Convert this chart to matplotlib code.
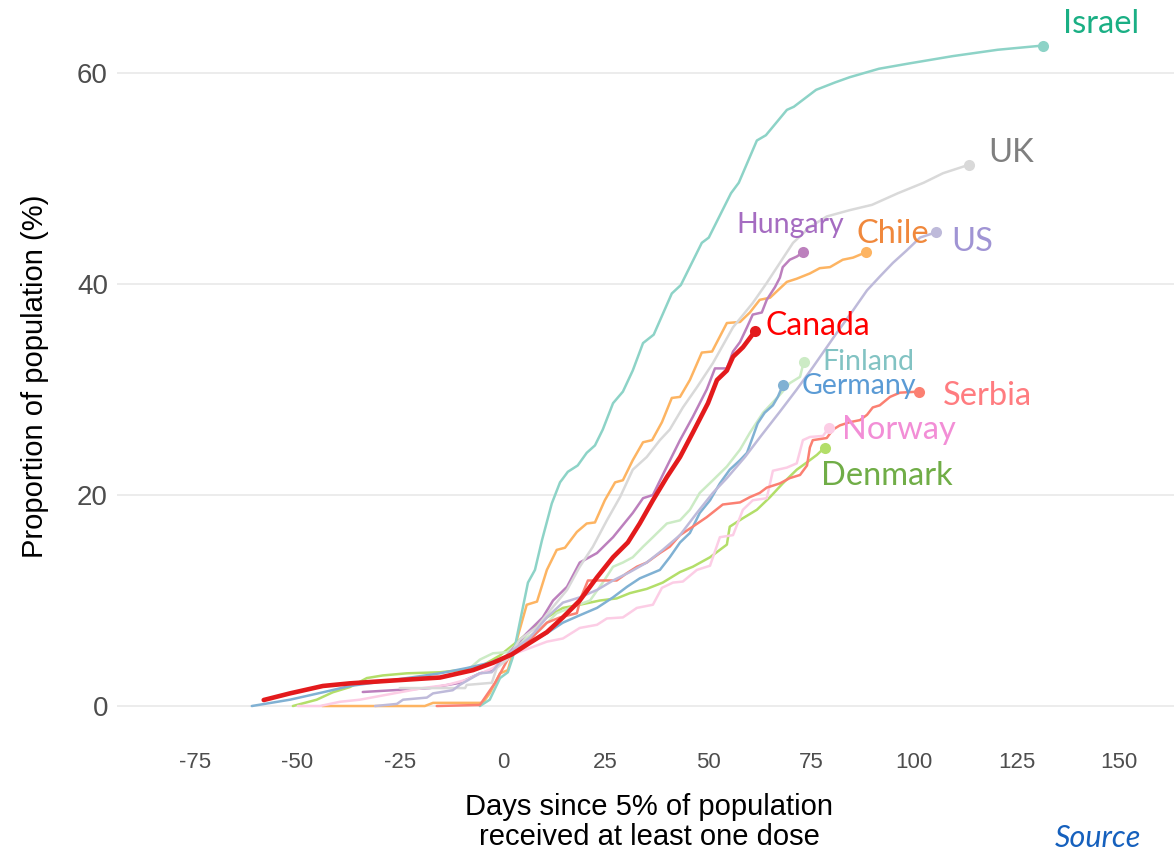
import matplotlib
matplotlib.use("Agg")
import matplotlib.pyplot as plt

plt.rcParams['axes.unicode_minus'] = False

# ---------------- data (days since 5% of population, % with >=1 dose) -------------
israel_days = [-5.6, -3.2, -0.7, 1.2, 2.4, 4.1, 6.1, 7.8, 9.5, 11.9, 13.9, 15.8, 18.2, 20.4, 22.4, 24.3,
               26.8, 29.2, 31.6, 34.1, 36.7, 41.1, 43.3, 48.4, 50.1, 55.5, 57.4, 61.8, 64.0, 69.1, 70.8,
               76.2, 80.8, 84.4, 91.5, 98.8, 109.5, 120.4, 131.4]
israel_pct = [0, 0.6, 2.65, 3.2, 4.6, 7.9, 11.7, 12.9, 15.7, 19.2, 21.2, 22.2, 22.8, 24.0, 24.7, 26.2,
              28.7, 29.8, 31.8, 34.4, 35.2, 39.1, 39.9, 43.9, 44.4, 48.6, 49.6, 53.6, 54.1, 56.5, 56.8,
              58.4, 59.1, 59.6, 60.4, 60.9, 61.6, 62.2, 62.6]

chile_days = [-44.0, -19.0, -17.0, -4.9, -3.2, -0.7, 1.2, 3.4, 5.8, 8.3, 10.7, 13.1, 15.1, 18.0, 20.4,
              22.4, 24.8, 27.3, 29.2, 31.6, 34.1, 36.3, 38.7, 41.1, 43.1, 45.5, 48.4, 50.9, 54.5, 57.7,
              60.1, 62.5, 65.0, 69.1, 71.5, 74.7, 77.1, 79.6, 82.7, 85.2, 88.3]
chile_pct = [0, 0, 0.3, 0.3, 1.2, 3.1, 3.4, 6.3, 9.6, 9.9, 12.9, 14.8, 15.0, 16.5, 17.3,
             17.4, 19.5, 21.2, 21.4, 23.3, 25.0, 25.2, 26.9, 29.2, 29.3, 30.9, 33.5, 33.6, 36.3, 36.4,
             37.3, 38.5, 38.7, 40.2, 40.5, 41.0, 41.5, 41.6, 42.3, 42.5, 43.0]

canada_days = [-58.2, -51.8, -43.8, -37.2, -27.5, -15.3, -7.3, -2.4, 2.2, 6.6, 10.7, 14.6, 18.7, 22.9,
               26.8, 30.4, 33.3, 36.5, 39.9, 43.1, 46.2, 49.9, 52.1, 54.5, 56.0, 58.4, 61.3]
canada_pct = [0.57, 1.2, 1.9, 2.15, 2.4, 2.7, 3.4, 4.1, 4.9, 6.0, 7.0, 8.4, 10.0, 12.2,
              14.1, 15.5, 17.3, 19.5, 21.7, 23.6, 25.9, 28.7, 30.9, 31.8, 33.1, 34.0, 35.5]

hungary_days = [-34.1, -17.8, -10.5, -5.6, -2.4, 1.7, 5.8, 9.7, 12.2, 15.6, 18.7, 22.9, 26.8, 31.6, 34.1,
                36.5, 39.9, 43.1, 46.2, 49.6, 51.6, 54.5, 56.0, 57.7, 59.4, 60.8, 63.0, 64.2, 66.2, 67.4,
                68.1, 69.8, 71.5, 73.0]
hungary_pct = [1.33, 1.7, 2.2, 3.1, 3.4, 5.1, 6.9, 8.4, 10.0, 11.3, 13.6, 14.5, 16.0, 18.3, 19.7,
               20.0, 22.7, 25.2, 27.4, 30.0, 32.0, 32.0, 33.6, 34.5, 35.9, 37.1, 37.3, 38.5, 39.7, 40.6,
               41.6, 42.3, 42.6, 43.0]

uk_days = [-25.1, -9.2, -8.8, -2.7, -1.5, 1.0, 4.1, 8.3, 12.2, 15.6, 18.7, 21.9, 25.3, 28.5, 31.6, 35.0,
           38.2, 40.6, 43.8, 47.2, 51.1, 56.0, 60.8, 64.2, 67.4, 70.6, 74.7, 78.8, 84.4, 89.8, 96.1,
           102.4, 107.1, 113.4]
uk_pct = [1.7, 1.7, 2.0, 2.2, 3.6, 4.4, 6.3, 7.5, 9.4, 11.0, 13.2, 15.1, 17.6, 19.8, 22.4, 23.6,
          25.2, 26.2, 28.3, 30.2, 32.5, 35.9, 38.2, 40.1, 42.0, 43.9, 45.4, 46.4, 47.0, 47.5, 48.6,
          49.6, 50.5, 51.3]

us_days = [-31.1, -25.8, -24.3, -18.5, -17.0, -12.2, -10.5, -5.6, -2.7, -0.7, 2.4, 6.6, 10.7, 14.6, 18.7,
           22.9, 26.8, 30.9, 35.0, 38.9, 43.1, 47.2, 51.1, 54.5, 58.9, 63.0, 67.4, 71.5, 75.4, 77.9, 81.3,
           85.2, 88.6, 91.7, 94.9, 98.3, 101.5, 105.4]
us_pct = [0, 0.2, 0.6, 0.8, 1.2, 1.5, 2.0, 3.1, 3.2, 4.2, 5.3, 6.5, 8.4, 9.8, 10.3,
          11.0, 11.9, 12.7, 13.6, 14.8, 16.2, 18.3, 20.2, 21.6, 23.6, 25.7, 27.9, 30.0, 32.1, 33.5, 35.4,
          37.5, 39.4, 40.7, 42.0, 43.2, 44.4, 44.9]

germany_days = [-61.1, -51.8, -43.8, -37.2, -31.6, -23.4, -15.3, -8.8, -3.2, 1.7, 6.6, 10.7, 14.6, 18.7,
                22.9, 26.8, 30.2, 33.3, 38.2, 40.6, 43.1, 45.5, 47.9, 50.4, 52.8, 55.2, 57.7, 59.4, 60.8,
                62.0, 63.7, 65.7, 66.9, 68.1]
germany_pct = [0, 0.6, 1.3, 1.9, 2.2, 2.65, 3.1, 3.6, 4.1, 4.8, 6.0, 6.9, 7.9, 8.6,
               9.3, 10.3, 11.3, 12.1, 12.9, 14.1, 15.5, 16.4, 18.3, 19.5, 21.1, 22.4, 23.3, 24.0, 25.5,
               26.8, 27.8, 28.5, 29.3, 30.4]

finland_days = [-8.0, -5.6, -2.4, 1.0, 4.9, 9.0, 13.1, 17.0, 21.2, 24.3, 26.8, 29.2, 31.6, 34.1, 36.5,
                39.9, 43.1, 45.5, 47.9, 51.1, 54.5, 57.7, 60.1, 63.3, 67.4, 69.8, 72.3, 73.2]
finland_pct = [3.6, 4.4, 5.0, 5.1, 6.3, 7.2, 8.8, 9.4, 10.0, 11.7, 13.2, 13.6, 14.1, 15.1, 16.0,
               17.3, 17.6, 18.6, 20.2, 21.4, 22.7, 24.3, 25.9, 27.8, 29.5, 30.6, 31.2, 32.6]

serbia_days = [-16.1, -5.6, -1.9, 1.7, 6.6, 10.7, 13.9, 18.0, 19.0, 20.7, 27.7, 30.2, 32.6, 35.0, 38.2,
               40.6, 43.1, 46.2, 49.6, 53.5, 57.7, 60.1, 62.5, 64.2, 67.4, 69.8, 72.3, 74.0, 74.7, 75.4,
               78.8, 80.3, 82.0, 84.4, 86.9, 88.6, 90.0, 91.7, 94.2, 96.6, 101.2]
serbia_pct = [0, 0.1, 2.2, 4.8, 6.3, 7.9, 8.4, 8.8, 10.3, 11.9, 11.9, 12.6, 13.2, 13.6, 14.5,
              15.1, 16.2, 17.0, 17.9, 19.1, 19.3, 19.8, 20.2, 20.7, 21.1, 21.6, 21.9, 22.8, 24.5, 25.2,
              25.4, 26.2, 26.6, 26.9, 27.1, 27.6, 28.3, 28.5, 29.3, 29.7, 29.8]

denmark_days = [-51.1, -45.3, -41.4, -37.2, -33.1, -29.2, -23.4, -15.3, -10.5, -5.6, -0.7, 4.1, 10.7, 14.6,
                18.7, 23.6, 27.7, 30.9, 35.0, 38.9, 43.1, 46.2, 50.4, 54.5, 55.2, 58.4, 61.8, 65.0, 68.1,
                71.5, 74.0, 76.4, 78.3]
denmark_pct = [0, 0.6, 1.3, 1.8, 2.65, 2.9, 3.1, 3.2, 3.4, 3.7, 4.8, 6.3, 8.4, 9.3,
               9.6, 10.0, 10.2, 10.7, 11.1, 11.7, 12.7, 13.2, 14.1, 15.3, 17.0, 17.8, 18.6, 19.8, 21.1,
               22.4, 23.1, 23.8, 24.5]

norway_days = [-49.9, -44.5, -39.7, -34.8, -25.1, -19.5, -13.6, -8.8, -2.4, 1.7, 6.6, 10.7, 14.6, 18.7,
               22.9, 25.3, 29.2, 32.6, 36.5, 38.7, 41.4, 43.8, 47.2, 50.4, 52.8, 56.0, 58.4, 60.8, 64.2,
               65.7, 69.1, 71.5, 73.0, 74.7, 77.9, 79.3]
norway_pct = [0, 0, 0.4, 0.6, 1.3, 1.7, 2.0, 2.5, 3.6, 4.8, 5.5, 6.1, 6.4, 7.4,
              7.7, 8.3, 8.4, 9.3, 9.6, 11.2, 11.7, 11.8, 12.9, 13.3, 16.0, 16.2, 18.6, 19.5, 19.7,
              22.3, 22.6, 23.0, 25.2, 25.5, 25.6, 26.35]

x_ticks = [-75, -50, -25, 0, 25, 50, 75, 100, 125, 150]
y_ticks = [0, 20, 40, 60]

# ---------------- styles ----------------
series = [
    # name, days, pct, line colour, label colour, label size, label offset (px)
    ("Chile", chile_days, chile_pct, "#fdb462", "#f0883c", 23.5, (-9, 9)),
    ("Denmark", denmark_days, denmark_pct, "#b3de69", "#70ad47", 23.5, (-4, -37)),
    ("Finland", finland_days, finland_pct, "#ccebc5", "#82c3c3", 20.5, (19, -8)),
    ("Germany", germany_days, germany_pct, "#80b1d3", "#5b9bd5", 20.5, (19, -9)),
    ("Hungary", hungary_days, hungary_pct, "#bc80bd", "#a56cc1", 20.5, (-67, 19)),
    ("Israel", israel_days, israel_pct, "#8dd3c7", "#1aaf84", 23.5, (20, 13)),
    ("Norway", norway_days, norway_pct, "#fccde5", "#f28ed6", 23.5, (13, -11)),
    ("Serbia", serbia_days, serbia_pct, "#fb8072", "#ff7c80", 23.5, (24, -13)),
    ("UK", uk_days, uk_pct, "#d9d9d9", "#7f7f7f", 23.5, (19, 3)),
    ("US", us_days, us_pct, "#bebada", "#a094d4", 23.5, (15, -19)),
    ("Canada", canada_days, canada_pct, "#e31a1c", "#ff0000", 23, (11, -4)),
]

W, H = 1174, 855
fig = plt.figure(figsize=(W / 100, H / 100), dpi=100)
ax = fig.add_axes([117 / W, (H - 740) / H, 1 - 117 / W, (740 - 14) / H])
ax.set_xlim(-93.9, 163.3)
ax.set_ylim(-3.22, 65.59)

for name, d, p, col, lcol, lsize, off in series:
    thick = name == "Canada"
    ax.plot(d, p, color=col, lw=3.3 if thick else 1.8, solid_capstyle="round",
            solid_joinstyle="round", zorder=5 if thick else 3)
    ax.plot(d[-1], p[-1], "o", color=col, ms=8, mec="none", zorder=6 if thick else 4)
    ax.annotate(name, xy=(d[-1], p[-1]), xytext=off, textcoords="offset pixels",
                ha="left", va="baseline", color=lcol, fontsize=lsize, family="Lato",
                annotation_clip=False, zorder=7)

for s in ax.spines.values():
    s.set_visible(False)
ax.set_xticks(x_ticks)
ax.set_xticklabels([str(t) for t in x_ticks])
ax.set_yticks(y_ticks)
ax.set_yticklabels([str(t) for t in y_ticks])
ax.tick_params(axis="x", length=0, pad=8.5, labelsize=16, labelcolor="#4d4d4d")
ax.tick_params(axis="y", length=0, pad=6.5, labelsize=20, labelcolor="#4d4d4d")
for lab in ax.get_xticklabels() + ax.get_yticklabels():
    lab.set_family("Liberation Sans")
ax.grid(axis="y", color="#ebebeb", lw=1.3)
ax.grid(axis="x", visible=False)
ax.set_axisbelow(True)

fig.text(0.030, 0.560, "Proportion of population (%)", rotation=90, ha="center", va="center",
         fontsize=21, family="Liberation Sans", color="black")
fig.text(0.553, 0.0386, "Days since 5% of population\nreceived at least one dose", ha="center",
         va="center", fontsize=21, family="Liberation Sans", color="black", linespacing=1.1)
fig.text(1055 / W, 3 / H, "Source", ha="left", va="bottom", fontsize=22, family="Lato",
         style="italic", color="#1560bd")

fig.savefig("out.png", dpi=100)
